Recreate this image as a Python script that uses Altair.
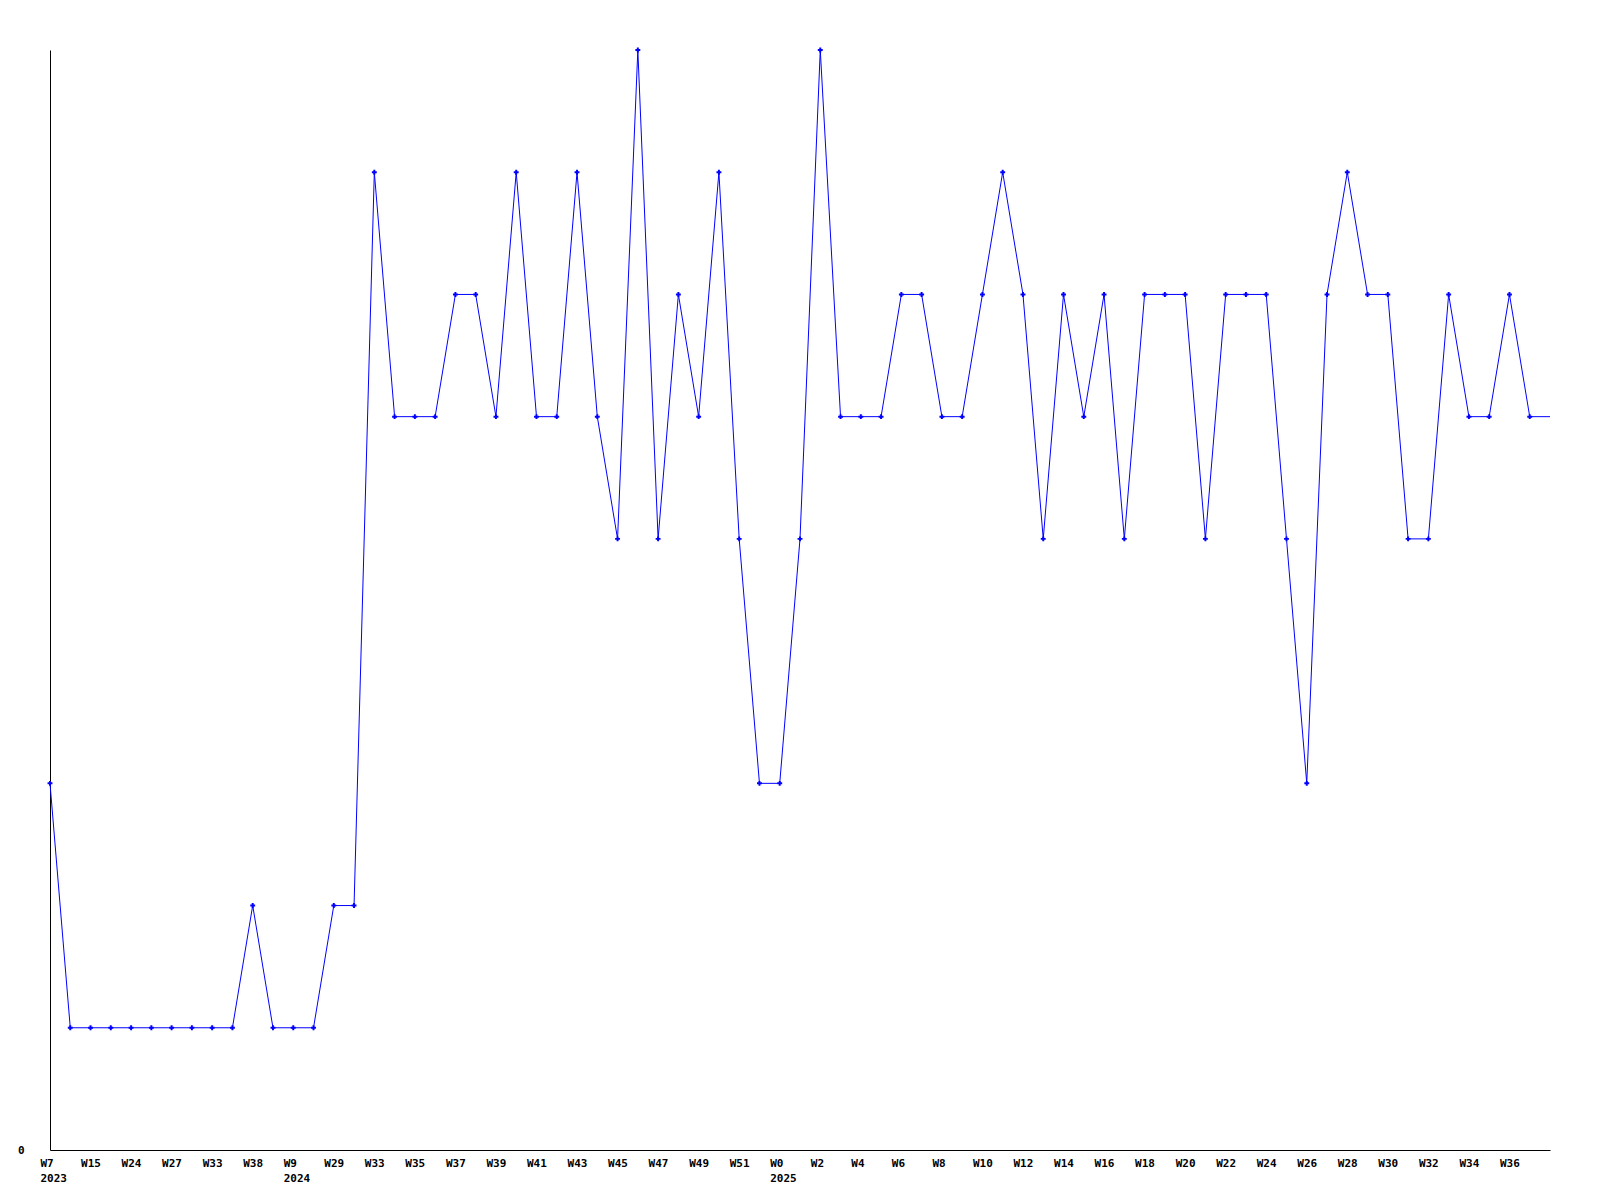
import json
import altair as alt
import pandas as pd

# values per weekly sample (index 0..74)
values = [3, 1, 1, 1, 1, 1, 1, 1, 1, 1,
          2, 1, 1, 1, 2, 2, 8, 6, 6, 6,
          7, 7, 6, 8, 6, 6, 8, 6, 5, 9,
          5, 7, 6, 8, 5, 3, 3, 5, 9, 6,
          6, 6, 7, 7, 6, 6, 7, 8, 7, 5,
          7, 6, 7, 5, 7, 7, 7, 5, 7, 7,
          7, 5, 3, 7, 8, 7, 7, 5, 5, 7,
          6, 6, 7, 6, 6]

# tick labels shown on every second sample
week_labels = ["W7", "W15", "W24", "W27", "W33", "W38", "W9", "W29", "W33", "W35",
               "W37", "W39", "W41", "W43", "W45", "W47", "W49", "W51", "W0", "W2",
               "W4", "W6", "W8", "W10", "W12", "W14", "W16", "W18", "W20", "W22",
               "W24", "W26", "W28", "W30", "W32", "W34", "W36"]
year_labels = ["2023", "", "", "", "", "", "2024", "", "", "",
               "", "", "", "", "", "", "", "", "2025", "",
               "", "", "", "", "", "", "", "", "", "",
               "", "", "", "", "", "", ""]

n = len(values)
df = pd.DataFrame({"i": list(range(n)), "v": values})
df["marker"] = df["i"] < n - 1

tick_vals = [2 * k for k in range(len(week_labels))]
label_expr = (f"[{json.dumps(week_labels)}[datum.value/2], "
              f"{json.dumps(year_labels)}[datum.value/2]]")

x = alt.X("i:Q", scale=alt.Scale(domain=[0, n - 1], nice=False, zero=False),
          axis=alt.Axis(values=tick_vals, labelExpr=label_expr, title=None,
                        ticks=False, grid=False, labelAlign="left", labelOffset=-10,
                        labelPadding=7, labelLineHeight=15, labelFont="DejaVu Sans Mono",
                        labelFontWeight="bold", labelFontSize=11, labelColor="black",
                        domainColor="black", labelOverlap=False, labelFlush=False,
                        labelBaseline="top"))
y = alt.Y("v:Q", scale=alt.Scale(domain=[0, 9], nice=False),
          axis=alt.Axis(values=[0], title=None, ticks=False, grid=False,
                        labelPadding=26, labelFont="DejaVu Sans Mono",
                        labelFontWeight="bold", labelFontSize=11, labelColor="black",
                        domainColor="black", labelBaseline="middle"))

base = alt.Chart(df)
line = base.mark_line(color="#0000ff", strokeWidth=1).encode(x=x, y=y)
pts = base.transform_filter("datum.marker").mark_point(
    shape="cross", filled=True, color="#0000ff", size=24, opacity=1).encode(x=x, y=y)

chart = (line + pts).properties(
    width=1500, height=1100,
    background="white",
    autosize=alt.AutoSizeParams(type="none"),
    padding={"left": 42, "top": 42, "right": 40, "bottom": 50},
).configure_view(strokeWidth=0, stroke="transparent")

chart.save("out.html", embed_options={"renderer": "svg", "actions": False})
